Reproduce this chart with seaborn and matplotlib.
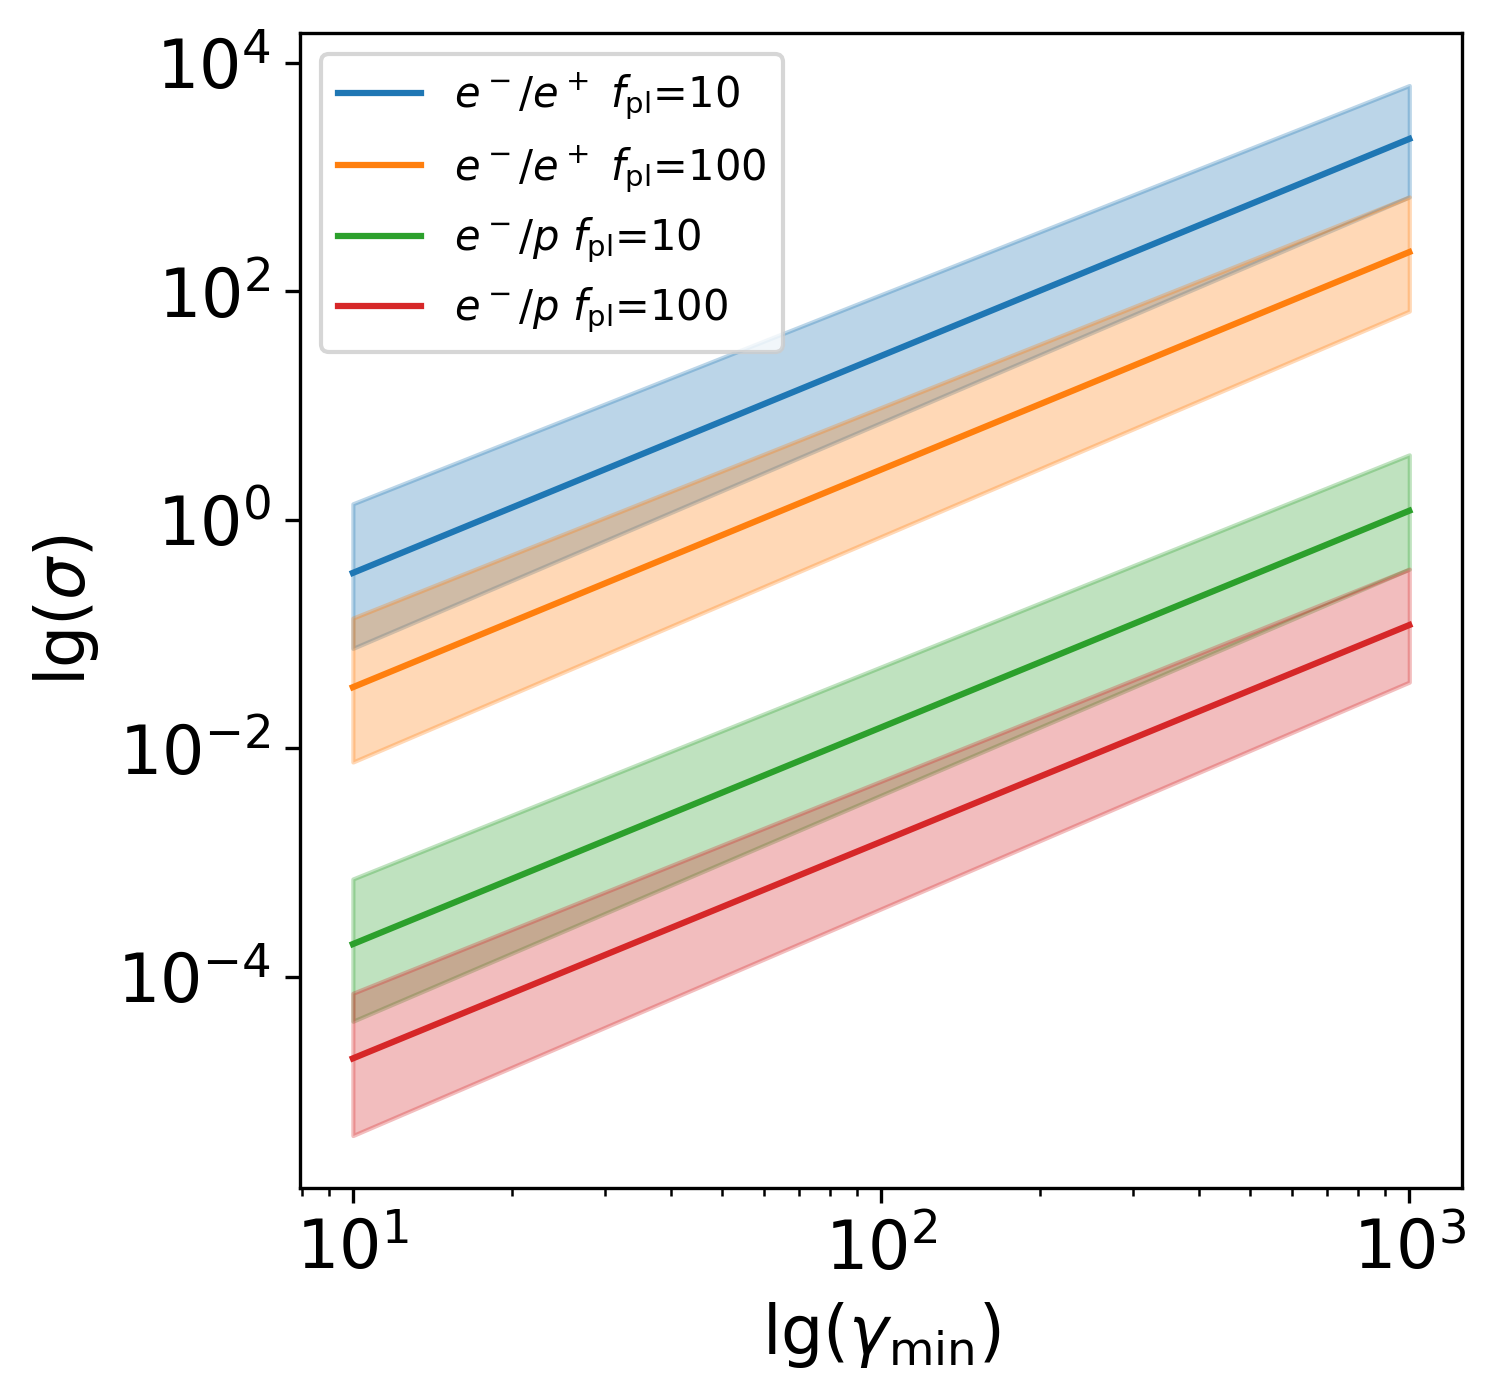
import numpy as np
import pandas as pd
import seaborn as sns
import matplotlib.pyplot as plt

# values (log-log straight lines)
gamma_min = [10, 1000]

labels = [
    r"$e^-/e^+$ $f_{\rm pl}$=10",
    r"$e^-/e^+$ $f_{\rm pl}$=100",
    r"$e^-/p$ $f_{\rm pl}$=10",
    r"$e^-/p$ $f_{\rm pl}$=100",
]
colors = ["tab:blue", "tab:orange", "tab:green", "tab:red"]

sigma_ee10 = [0.343, 2150]
sigma_ee10_lo = [0.075, 668]
sigma_ee10_hi = [1.38, 6300]

sigma_ee100 = [0.0343, 220]
sigma_ee100_lo = [0.0076, 67]
sigma_ee100_hi = [0.138, 668]

sigma_ep10 = [1.94e-4, 1.2]
sigma_ep10_lo = [4.1e-5, 0.37]
sigma_ep10_hi = [7.2e-4, 3.7]

sigma_ep100 = [1.94e-5, 0.12]
sigma_ep100_lo = [4.1e-6, 0.038]
sigma_ep100_hi = [7.2e-5, 0.37]

mid = [sigma_ee10, sigma_ee100, sigma_ep10, sigma_ep100]
low = [sigma_ee10_lo, sigma_ee100_lo, sigma_ep10_lo, sigma_ep100_lo]
high = [sigma_ee10_hi, sigma_ee100_hi, sigma_ep10_hi, sigma_ep100_hi]

df = pd.concat(
    [pd.DataFrame({"gamma": gamma_min, "sigma": m, "case": lab}) for m, lab in zip(mid, labels)],
    ignore_index=True,
)

fig = plt.figure(figsize=(1495 / 300, 1400 / 300), dpi=300)
ax = fig.add_axes([0.2007, 0.1514, 0.7773, 0.8250])

sns.lineplot(data=df, x="gamma", y="sigma", hue="case", hue_order=labels,
             palette=colors, ax=ax, linewidth=1.5)

for lo, hi, c in zip(low, high, colors):
    ax.fill_between(gamma_min, lo, hi, color=c, alpha=0.3)

ax.set_xscale("log")
ax.set_yscale("log")

ax.set_xlabel(r"lg($\gamma_{\rm min}$)", fontsize=16)
ax.set_ylabel(r"lg($\sigma$)", fontsize=16)
ax.tick_params(axis="both", which="major", labelsize=16)

ax.legend(loc="upper left", fontsize=10, title=None)

fig.savefig("out.png", dpi=300)
